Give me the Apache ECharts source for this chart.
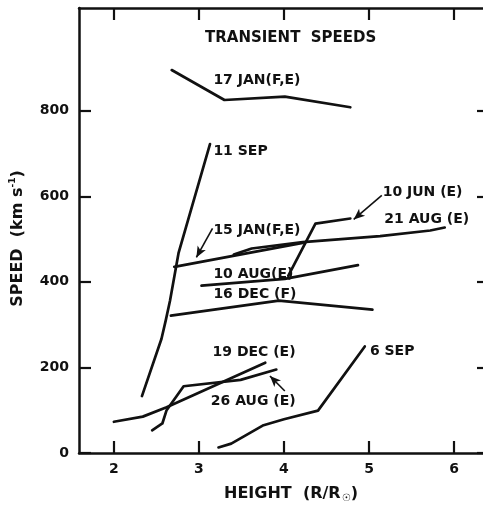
<!DOCTYPE html>
<html><head><meta charset="utf-8">
<script src="https://cdn.jsdelivr.net/npm/echarts@6/dist/echarts.min.js"></script>
<style>html,body{margin:0;padding:0;background:#fff}#c{width:483px;height:508px}</style>
</head><body><div id="c"></div>
<script>
// ---- data (height R/Rsun, speed km/s) ----
const xTicks = [2, 3, 4, 5, 6];
const yTicks = [0, 200, 400, 600, 800];
const jan17 = [[2.68, 895], [3.30, 825], [4.01, 833], [4.78, 808]];
const sep11 = [[2.33, 133], [2.56, 267], [2.61, 310], [2.66, 356], [2.76, 467], [3.13, 722]];
const jan15 = [[2.71, 435], [4.22, 491]];
const aug21 = [[3.41, 464], [3.62, 478], [4.22, 493], [5.13, 507], [5.72, 520], [5.89, 527]];
const jun10 = [[4.05, 414], [4.37, 536], [4.78, 548]];
const aug10 = [[3.03, 391], [4.01, 407], [4.87, 439]];
const dec16 = [[2.67, 321], [3.94, 356], [5.04, 335]];
const dec19 = [[2.00, 73], [2.34, 85], [2.62, 107], [3.78, 211]];
const aug26 = [[2.45, 53], [2.57, 69], [2.62, 100], [2.82, 156], [3.49, 171], [3.91, 195]];
const sep6 = [[3.23, 13], [3.38, 22], [3.76, 65], [4.00, 79], [4.40, 99], [4.95, 249]];

const seriesNames = ['17 JAN(F,E)', '11 SEP', '15 JAN(F,E)', '21 AUG (E)', '10 JUN (E)',
  '10 AUG(E)', '16 DEC (F)', '19 DEC (E)', '26 AUG (E)', '6 SEP'];
const seriesData = [jan17, sep11, jan15, aug21, jun10, aug10, dec16, dec19, aug26, sep6];

// annotation anchors (data coordinates, left edge of label text)
const labelAt = [[3.17, 870], [3.17, 704], [3.17, 521], [5.18, 546], [5.16, 609],
  [3.17, 417], [3.17, 371], [3.16, 236], [3.14, 121], [5.01, 238]];
// pointer arrows (from label to curve), data coordinates
const arrows = {
  2: [[3.16, 525], [2.97, 457]],
  4: [[5.15, 602], [4.82, 546]],
  8: [[4.01, 145], [3.835, 180]]
};

const INK = '#111';
const FONT = 'DejaVu Sans';
const txt = {color: INK, fontFamily: FONT, fontWeight: 'bold', fontSize: 14};

const chart = echarts.init(document.getElementById('c'), null, {renderer: 'canvas'});

const axisCommon = {
  type: 'value',
  splitLine: {show: false},
  axisLine: {show: true, onZero: false, lineStyle: {color: INK, width: 2.5}},
  axisTick: {show: true, inside: true, length: 12, lineStyle: {color: INK, width: 2.2}}
};

const series = seriesData.map((d, i) => {
  const s = {
    name: seriesNames[i],
    type: 'line',
    data: d,
    symbol: 'none',
    smooth: false,
    silent: true,
    lineStyle: {color: INK, width: 2.7, cap: 'round', join: 'round'},
    markPoint: {
      symbol: 'circle', symbolSize: 0, silent: true,
      data: [{coord: labelAt[i], name: seriesNames[i]}],
      label: Object.assign({show: true, position: 'right', distance: 0,
        formatter: seriesNames[i]}, txt)
    }
  };
  if (arrows[i]) {
    s.markLine = {
      silent: true,
      symbol: ['none', 'arrow'],
      symbolSize: [7, 11],
      lineStyle: {color: INK, width: 1.6, type: 'solid'},
      label: {show: false},
      data: [[{coord: arrows[i][0]}, {coord: arrows[i][1]}]]
    };
  }
  return s;
});

const X_MIN = 1.59, X_MAX = 6.34;

chart.setOption({
  animation: false,
  backgroundColor: '#fff',
  title: {
    text: 'TRANSIENT  SPEEDS', left: 200, top: 26,
    textStyle: {color: INK, fontFamily: FONT, fontWeight: 'bold', fontSize: 15}
  },
  grid: {left: 76, right: 0, top: 8, bottom: 54, containLabel: false},
  xAxis: [
    Object.assign({}, axisCommon, {
      position: 'bottom', min: X_MIN, max: X_MAX,
      axisTick: Object.assign({}, axisCommon.axisTick, {customValues: xTicks}),
      axisLabel: Object.assign({show: true, margin: 9, customValues: xTicks}, txt),
      name: '{a|HEIGHT  (R/R}{s|☉}{a|)}',
      nameLocation: 'middle', nameGap: 31,
      nameTextStyle: {padding: [0, 0, 0, 20], rich: {
        a: {color: INK, fontFamily: FONT, fontWeight: 'bold', fontSize: 16, lineHeight: 19},
        s: {color: INK, fontFamily: FONT, fontWeight: 'bold', fontSize: 10, verticalAlign: 'bottom', lineHeight: 10, padding: [6, 0, 0, 1]}
      }}
    }),
    Object.assign({}, axisCommon, {
      position: 'top', min: X_MIN, max: X_MAX,
      axisTick: Object.assign({}, axisCommon.axisTick, {customValues: xTicks}),
      axisLabel: {show: false}
    })
  ],
  yAxis: [
    Object.assign({}, axisCommon, {
      position: 'left', min: 0, max: 1040,
      axisTick: Object.assign({}, axisCommon.axisTick, {customValues: yTicks}),
      axisLabel: Object.assign({show: true, margin: 10, customValues: yTicks}, txt),
      name: '{a|SPEED  (km s}{p|-1}{a|)}',
      nameLocation: 'middle', nameGap: 52,
      nameTextStyle: {padding: [0, 16, 0, 0], rich: {
        a: {color: INK, fontFamily: FONT, fontWeight: 'bold', fontSize: 16, lineHeight: 19},
        p: {color: INK, fontFamily: FONT, fontWeight: 'bold', fontSize: 9, verticalAlign: 'top', lineHeight: 10, padding: [0, 0, 6, 0]}
      }}
    }),
    Object.assign({}, axisCommon, {
      position: 'right', min: 0, max: 1040,
      axisLine: {show: false},
      axisTick: Object.assign({}, axisCommon.axisTick, {length: 6, customValues: yTicks}),
      axisLabel: {show: false}
    })
  ],
  series: series
});
</script>
</body></html>
